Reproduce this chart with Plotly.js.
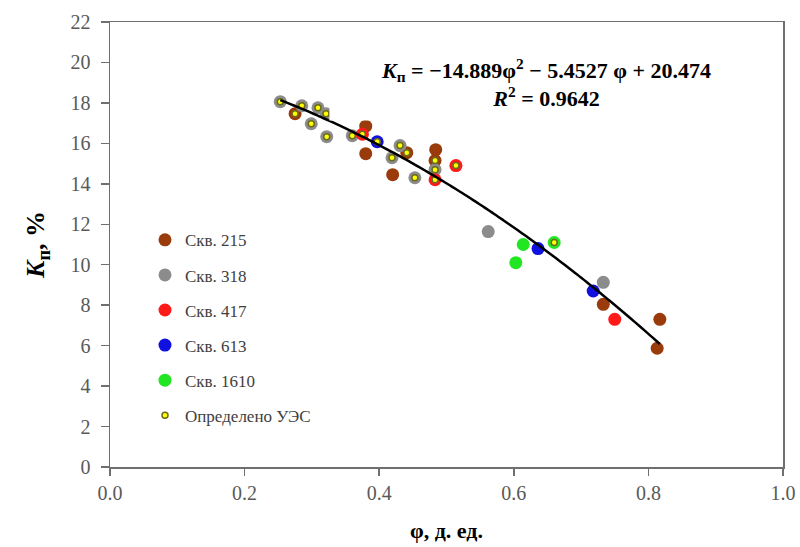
<!DOCTYPE html>
<html>
<head>
<meta charset="utf-8">
<script src="https://cdn.plot.ly/plotly-3.0.1.min.js"></script>
<style>html,body{margin:0;padding:0;background:#fff;}#chart{width:800px;height:547px;}</style>
</head>
<body>
<div id="chart"></div>
<script>
// ---- data ----
const seriesNames = ["Скв. 215", "Скв. 318", "Скв. 417", "Скв. 613", "Скв. 1610"];

const x215 = [0.275, 0.380, 0.380, 0.441, 0.484, 0.483, 0.420, 0.733, 0.817, 0.813];
const y215 = [17.47, 16.85, 15.49, 15.54, 15.69, 15.15, 14.45, 8.04, 7.30, 5.87];

const x318 = [0.253, 0.285, 0.309, 0.321, 0.299, 0.322, 0.360, 0.431, 0.419, 0.483, 0.453, 0.562, 0.733];
const y318 = [18.06, 17.86, 17.76, 17.46, 16.97, 16.33, 16.38, 15.89, 15.29, 14.70, 14.30, 11.64, 9.13];

const x417 = [0.375, 0.514, 0.483, 0.750];
const y417 = [16.45, 14.90, 14.20, 7.30];

const x613 = [0.397, 0.636, 0.718];
const y613 = [16.08, 10.80, 8.70];

const x1610 = [0.614, 0.660, 0.603];
const y1610 = [11.00, 11.10, 10.10];

const uesName = "Определено УЭС";
const xUES = [0.253, 0.275, 0.285, 0.309, 0.321, 0.299, 0.322, 0.360, 0.375, 0.397, 0.431, 0.441, 0.419, 0.483, 0.483, 0.483, 0.514, 0.453, 0.660];
const yUES = [18.06, 17.47, 17.86, 17.76, 17.46, 16.97, 16.33, 16.38, 16.45, 16.08, 15.89, 15.54, 15.29, 15.15, 14.70, 14.20, 14.90, 14.30, 11.10];

// trendline coefficients shown on the chart: a*φ^2 + b*φ + c
const trendCoef = [-14.889, -5.4527, 20.474];
const trendRange = [0.253, 0.817];

const xTicks = [0.0, 0.2, 0.4, 0.6, 0.8, 1.0];
const yTicks = [0, 2, 4, 6, 8, 10, 12, 14, 16, 18, 20, 22];

// ---- build ----
const FONT = "Liberation Serif";
const colors = ["#9a3b0c", "#8c8c8c", "#ff1a1a", "#1010e0", "#22e622"];
const xs = [x215, x318, x417, x613, x1610];
const ys = [y215, y318, y417, y613, y1610];

const traces = [];
seriesNames.forEach((n, i) => {
  traces.push({
    type: "scatter", mode: "markers", name: n, x: xs[i], y: ys[i],
    legendgroup: "g" + i,
    marker: {color: colors[i], size: 13, line: {width: 0}}
  });
});
traces.push({
  type: "scatter", mode: "markers", name: uesName, x: xUES, y: yUES,
  legendgroup: "g5",
  marker: {color: "#ffff00", size: 6, line: {width: 1.5, color: "#6b6b1a"}}
});

const tx = [], ty = [];
const N = 80;
for (let k = 0; k <= N; k++) {
  const v = trendRange[0] + (trendRange[1] - trendRange[0]) * k / N;
  tx.push(v);
  ty.push(trendCoef[0] * v * v + trendCoef[1] * v + trendCoef[2]);
}
traces.push({
  type: "scatter", mode: "lines", x: tx, y: ty, showlegend: false,
  line: {color: "#000000", width: 2.5, simplify: false, shape: "spline"}, hoverinfo: "skip"
});

const layout = {
  width: 800, height: 547,
  margin: {l: 110, r: 17, t: 22, b: 80},
  paper_bgcolor: "#ffffff", plot_bgcolor: "#ffffff",
  font: {family: FONT, color: "#404040"},
  showlegend: true,
  legend: {
    x: 0.052, y: 0.55, xanchor: "left", yanchor: "top",
    bgcolor: "rgba(0,0,0,0)", font: {family: FONT, size: 17, color: "#404040"},
    tracegroupgap: 10, itemwidth: 30
  },
  xaxis: {
    range: [0, 1], tickvals: xTicks, ticktext: xTicks.map(v => v.toFixed(1)),
    showgrid: false, zeroline: false, showline: true, linecolor: "#6f6f6f", linewidth: 1.5,
    mirror: true, ticks: "outside", ticklen: 7, tickcolor: "#6f6f6f", tickwidth: 1.5,
    tickfont: {family: FONT, size: 20, color: "#595959"},
    title: {text: "<b>φ, д. ед.</b>", font: {family: FONT, size: 22, color: "#000"}, standoff: 20}
  },
  yaxis: {
    range: [0, 22], tickvals: yTicks, ticktext: yTicks.map(String),
    showgrid: false, zeroline: false, showline: true, linecolor: "#6f6f6f", linewidth: 1.5,
    mirror: true, ticks: "outside", ticklen: 8, tickcolor: "#6f6f6f", tickwidth: 1.5,
    ticklabelstandoff: 6,
    tickfont: {family: FONT, size: 20, color: "#595959"},
    title: {text: "<b><i>K</i><sub>п</sub>, %</b>", font: {family: FONT, size: 26, color: "#000"}, standoff: 18}
  },
  annotations: [{
    xref: "x", yref: "y", x: 0.648, y: 19.0, xanchor: "center", yanchor: "middle",
    width: 420, height: 62,
    text: "<b><i>K</i><sub>п</sub> = −14.889φ<sup>2</sup> − 5.4527 φ + 20.474</b><br><b><i>R</i><sup>2</sup> = 0.9642</b>",
    showarrow: false, align: "center", bgcolor: "#ffffff", borderpad: 6,
    font: {family: FONT, size: 22, color: "#000"}
  }]
};

Plotly.newPlot("chart", traces, layout, {displayModeBar: false, staticPlot: true});
</script>
</body>
</html>
